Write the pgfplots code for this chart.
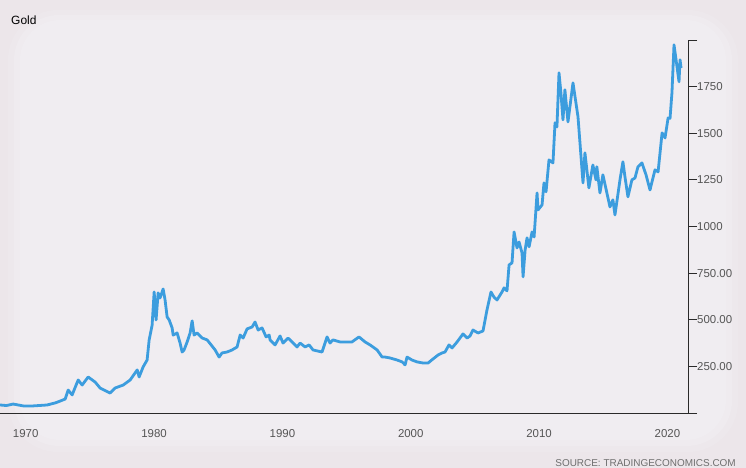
\documentclass[border=0pt]{standalone}
\usepackage{pgfplots}
\pgfplotsset{compat=1.18}
\usepackage{fontspec}
\setmainfont{Liberation Sans}
\definecolor{bgc}{HTML}{ECE6EA}
\definecolor{innerc}{HTML}{F0EDF1}
\definecolor{goldline}{HTML}{3C9DDE}
\definecolor{lbl}{HTML}{555555}
\definecolor{axc}{HTML}{2A2A2A}
\begin{document}
\begin{tikzpicture}
\fill[bgc] (0bp,0bp) rectangle (746bp,468bp);
\fill[bgc!66!innerc, rounded corners=50bp] (8bp,16bp) rectangle (738bp,458bp);
\fill[bgc!33!innerc, rounded corners=45bp] (14bp,22bp) rectangle (732bp,453bp);
\fill[innerc, rounded corners=40bp] (20bp,28bp) rectangle (726bp,448bp);
\useasboundingbox (0bp,0bp) rectangle (746bp,468bp);
\node[anchor=base west, inner sep=0pt, text=black, font=\fontsize{12}{14}\selectfont] at (11bp,443bp) {Gold};
\node[anchor=base east, inner sep=0pt, text=lbl!85, font=\fontsize{10}{12}\selectfont] at (736bp,2bp) {SOURCE: TRADINGECONOMICS.COM};
\begin{axis}[
  at={(0bp,55bp)}, anchor=south west, scale only axis,
  width=688bp, height=373bp,
  xmin=1968.0, xmax=2021.6, ymin=0, ymax=2000,
  axis x line=bottom, axis y line=right,
  axis line style={-, axc, line width=0.9bp},
  xtick={1970,1980,1990,2000,2010,2020},
  xticklabels={1970,1980,1990,2000,2010,2020},
  ytick={0,250,500,750,1000,1250,1500,1750,2000},
  yticklabels={,250.00,500.00,750.00,1000,1250,1500,1750,},
  tick style={axc, line width=0.9bp},
  ytick align=outside, xtick align=inside,
  major tick length=9bp,
  x tick style={draw=none},
  ticklabel style={text=lbl, font=\fontsize{11.5}{13}\selectfont, inner sep=0pt},
  yticklabel style={anchor=west, xshift=0bp},
  xticklabel style={anchor=north, yshift=-16bp},
  clip=false,
]
\addplot[goldline, line width=2.8bp, line join=round] coordinates {
(1968.01,43) (1968.5,40) (1969.03,48) (1969.81,38) (1970.58,38) (1971.67,43)
(1972.30,54) (1972.69,64) (1973.08,75) (1973.31,123) (1973.62,97) (1974.09,177)
(1974.40,150) (1974.87,193) (1975.41,166) (1975.80,134) (1976.58,107) (1976.97,134)
(1977.60,150) (1978.14,177) (1978.69,231) (1978.84,193) (1979.15,247) (1979.46,284)
(1979.62,392) (1979.85,470) (1980.01,649) (1980.16,499) (1980.32,644) (1980.47,617)
(1980.71,665) (1980.86,606) (1981.02,515) (1981.18,499) (1981.41,456) (1981.49,418)
(1981.80,429) (1982.03,375) (1982.19,327) (1982.34,338) (1982.58,381) (1982.81,429)
(1982.97,494) (1983.12,418) (1983.36,429) (1983.75,402) (1984.14,392) (1984.45,365)
(1984.76,338) (1985.07,300) (1985.30,322) (1985.69,327) (1986.08,338) (1986.47,354)
(1986.71,418) (1986.94,402) (1987.25,451) (1987.64,461) (1987.87,488) (1988.11,445)
(1988.42,456) (1988.73,408) (1988.97,418) (1989.04,392) (1989.43,365) (1989.82,413)
(1990.05,375) (1990.44,402) (1990.75,381) (1991.14,354) (1991.38,375) (1991.77,354)
(1992.08,365) (1992.39,338) (1993.09,327) (1993.48,408) (1993.71,375) (1993.94,392)
(1994.49,381) (1995.03,381) (1995.42,381) (1995.97,408) (1996.44,381) (1996.83,365)
(1997.38,338) (1997.77,300) (1998.00,300) (1998.39,295) (1998.94,284) (1999.33,274)
(1999.56,258) (1999.71,300) (2000.10,284) (2000.49,274) (2000.96,268) (2001.35,268)
(2001.74,290) (2002.13,311) (2002.44,322) (2002.67,327) (2002.98,365) (2003.22,349)
(2003.61,381) (2004.07,424) (2004.39,402) (2004.62,413) (2004.85,445) (2005.24,429)
(2005.63,440) (2005.94,553) (2006.25,649) (2006.48,622) (2006.72,606) (2007.11,649)
(2007.27,671) (2007.50,655) (2007.66,794) (2007.89,805) (2008.05,971) (2008.28,885)
(2008.44,917) (2008.67,858) (2008.75,730) (2008.91,874) (2009.06,939) (2009.22,891)
(2009.45,971) (2009.61,944) (2009.84,1180) (2009.92,1089) (2010.23,1116) (2010.38,1234)
(2010.54,1186) (2010.77,1357) (2011.08,1341) (2011.24,1556) (2011.39,1534) (2011.55,1824)
(2011.70,1717) (2011.86,1572) (2012.01,1733) (2012.25,1561) (2012.64,1770) (2013.03,1588)
(2013.42,1234) (2013.57,1395) (2013.88,1207) (2014.19,1330) (2014.43,1250) (2014.50,1320)
(2014.74,1180) (2014.97,1277) (2015.28,1180) (2015.52,1105) (2015.75,1143) (2015.91,1062)
(2016.30,1250) (2016.53,1347) (2016.69,1266) (2016.92,1159) (2017.23,1250) (2017.47,1260)
(2017.70,1320) (2018.01,1341) (2018.33,1277) (2018.64,1196) (2019.03,1304) (2019.27,1293)
(2019.58,1502) (2019.81,1475) (2020.05,1582) (2020.20,1580) (2020.35,1717) (2020.51,1974)
(2020.67,1894) (2020.90,1776) (2020.98,1894) (2021.06,1850)
};
\end{axis}
\end{tikzpicture}
\end{document}
